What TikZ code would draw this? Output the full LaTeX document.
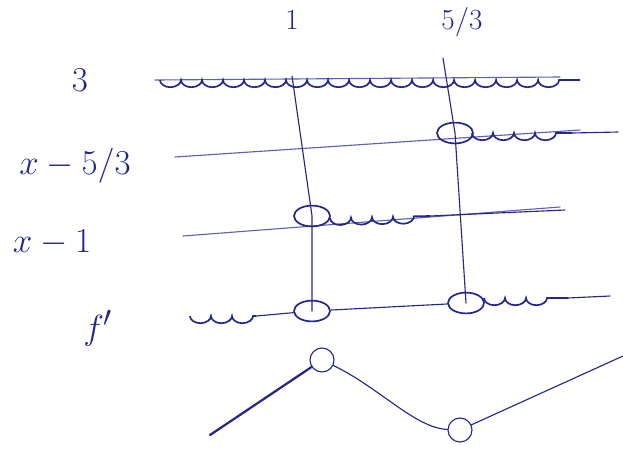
\documentclass[tikz,border=0pt]{standalone}
\usepackage{tikz}
\usetikzlibrary{
  decorations.pathmorphing,
  shapes.geometric,
  positioning
}
\definecolor{penblue}{RGB}{36,38,140}
\definecolor{ruleblue}{RGB}{95,95,180}
\tikzset{
  rowlab/.style={text=penblue,font=\fontsize{28}{30}\selectfont,inner sep=1pt},
  toplab/.style={text=penblue,font=\fontsize{20}{22}\selectfont,inner sep=1pt},
  rule/.style={draw=ruleblue,thick,line cap=round},
  pen/.style={draw=penblue,thick,line cap=round},
  posflow/.style={draw=penblue,very thick,decorate,
    decoration={bumps,mirror,segment length=10.5mm,amplitude=1.8mm}},
  zero/.style={ellipse,draw=penblue,very thick,minimum width=9mm,
    minimum height=5.2mm,inner sep=0pt},
  turn/.style={circle,draw=penblue,thick,minimum size=6mm,inner sep=0pt}
}

\begin{document}
\begin{tikzpicture}[x=0.025cm,y=-0.025cm]
  \useasboundingbox (0,0) rectangle (623,450);
  % column heads and row names
  \node[toplab] (one) at (292,20) {$1$};
  \node[toplab] (fivethirds) at (462,22) {$5/3$};
  \node[rowlab] (cst) at (80,80) {$3$};
  \node[rowlab] (lin53) at (75,166) {$x-5/3$};
  \node[rowlab] (lin1) at (52,243) {$x-1$};
  \node[rowlab] (deriv) at (98,328) {$f'$};

  % ruled lines
  \coordinate (r3a) at (155,80);   \coordinate (r3b) at (560,77);
  \coordinate (r53a) at (175,157); \coordinate (r53b) at (580,130);
  \coordinate (r1a) at (183,236);  \coordinate (r1b) at (560,207);
  \draw[rule] (r3a)--(r3b);
  \draw[rule] (r53a)--(r53b);
  \draw[rule] (r1a)--(r1b);

  % zeros
  \node[zero] (z53) at (455,133) {};
  \node[zero] (z1) at (312,216) {};
  \node[zero] (f1) at (312,311) {};
  \node[zero] (f53) at (466,303) {};

  % column lines
  \coordinate (c1top) at (292,76);
  \coordinate (c53top) at (443,58);
  \draw[pen] (c1top)--(z1.center)--(f1.center);
  \draw[pen] (c53top)--(z53.center)--(f53.center);

  % signs
  \coordinate (p3a) at (160,80);   \coordinate (p3b) at (580,80);
  \draw[posflow] (p3a)--(p3b);
  \coordinate (p53a) at (472,133); \coordinate (p53b) at (572,133);
  \coordinate (e53) at (618,132);
  \draw[posflow] (p53a)--(p53b);
  \draw[pen] (p53b)--(e53);
  \coordinate (p1a) at (330,218);  \coordinate (p1b) at (430,216);
  \coordinate (e1) at (565,210);
  \draw[posflow] (p1a)--(p1b);
  \draw[pen] (p1b)--(e1);
  \coordinate (pfa) at (190,316);  \coordinate (pfb) at (256,316);
  \draw[posflow] (pfa)--(pfb);
  \draw[pen] (pfb)--(f1)--(f53);
  \coordinate (pfc) at (484,298);  \coordinate (pfd) at (568,298);
  \coordinate (ef) at (610,296);
  \draw[posflow] (pfc)--(pfd);
  \draw[pen] (pfd)--(ef);

  % variation of f
  \coordinate (tail) at (210,435);
  \node[turn] (mx) at (322,360) {};
  \node[turn] (mn) at (460,430) {};
  \coordinate (head) at (623,356);
  \draw[pen,line width=1.6pt] (tail)--(mx);
  \draw[pen] (mx) .. controls (380,388) and (415,428) .. (mn);
  \draw[pen] (mn)--(head);
\end{tikzpicture}
\end{document}
